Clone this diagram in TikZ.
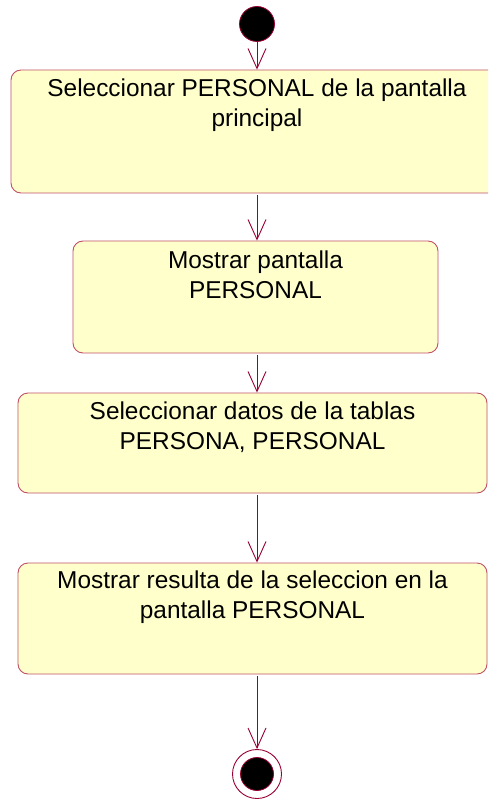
\documentclass[tikz,border=0pt]{standalone}
\usepackage{fontspec}
\setmainfont{Liberation Sans}
\usetikzlibrary{positioning,arrows.meta}
\definecolor{actfill}{HTML}{FFFFCC}
\definecolor{actborder}{HTML}{C0506A}
\definecolor{flow}{HTML}{990033}

\begin{document}
\begin{tikzpicture}[
  x=1pt, y=-1pt,
  actbox/.style={draw=actborder, fill=actfill, rounded corners=10pt, line width=0.9pt,
                 inner sep=0pt},
  acttext/.style={inner sep=0pt, align=center, font=\fontsize{24.4}{30}\selectfont},
  startdot/.style={circle, draw=flow, fill=black, line width=0.8pt,
                   minimum size=35pt, inner sep=0pt},
  endring/.style={circle, draw=flow, fill=white, line width=0.9pt,
                  minimum size=49pt, inner sep=0pt},
  arr/.style={-{Straight Barb[length=20pt, width=18pt]}, flow, line width=0.9pt}
]
  \useasboundingbox (0,0) rectangle (488,799);
  \clip (0,0) rectangle (488,799);

  % initial state
  \node[startdot] (start) at (257,24) {};

  % activities
  \node[actbox, minimum width=492pt, minimum height=123pt] (selpers) at (257,131.5) {};
  \node[acttext, below=9pt of selpers.north] (selperstxt)
    {Seleccionar PERSONAL de la pantalla\\principal};

  \node[actbox, minimum width=365pt, minimum height=112pt] (mostpant) at (255.5,297) {};
  \node[acttext, below=10pt of mostpant.north] (mostpanttxt)
    {Mostrar pantalla\\PERSONAL};

  \node[actbox, minimum width=469pt, minimum height=100pt] (seldatos) at (252.5,443) {};
  \node[acttext, below=9pt of seldatos.north] (seldatostxt)
    {Seleccionar datos de la tablas\\PERSONA, PERSONAL};

  \node[actbox, minimum width=469pt, minimum height=111pt] (mostres) at (252.5,618.5) {};
  \node[acttext, below=8pt of mostres.north] (mostrestxt)
    {Mostrar resulta de la seleccion en la\\pantalla PERSONAL};

  % final state
  \node[endring] (final) at (257,774) {};
  \node[startdot, minimum size=33pt] (finaldot) at (final) {};

  % transitions
  \draw[arr] (start.south) -- (start.south |- selpers.north);
  \draw[arr] ([yshift=-2pt]selpers.south -| start) -- (start |- mostpant.north);
  \draw[arr] ([yshift=-2pt]mostpant.south -| start) -- (start |- seldatos.north);
  \draw[arr] ([yshift=-2pt]seldatos.south -| start) -- (start |- mostres.north);
  \draw[arr] ([yshift=-2pt]mostres.south -| start) -- (final.north);
\end{tikzpicture}
\end{document}
